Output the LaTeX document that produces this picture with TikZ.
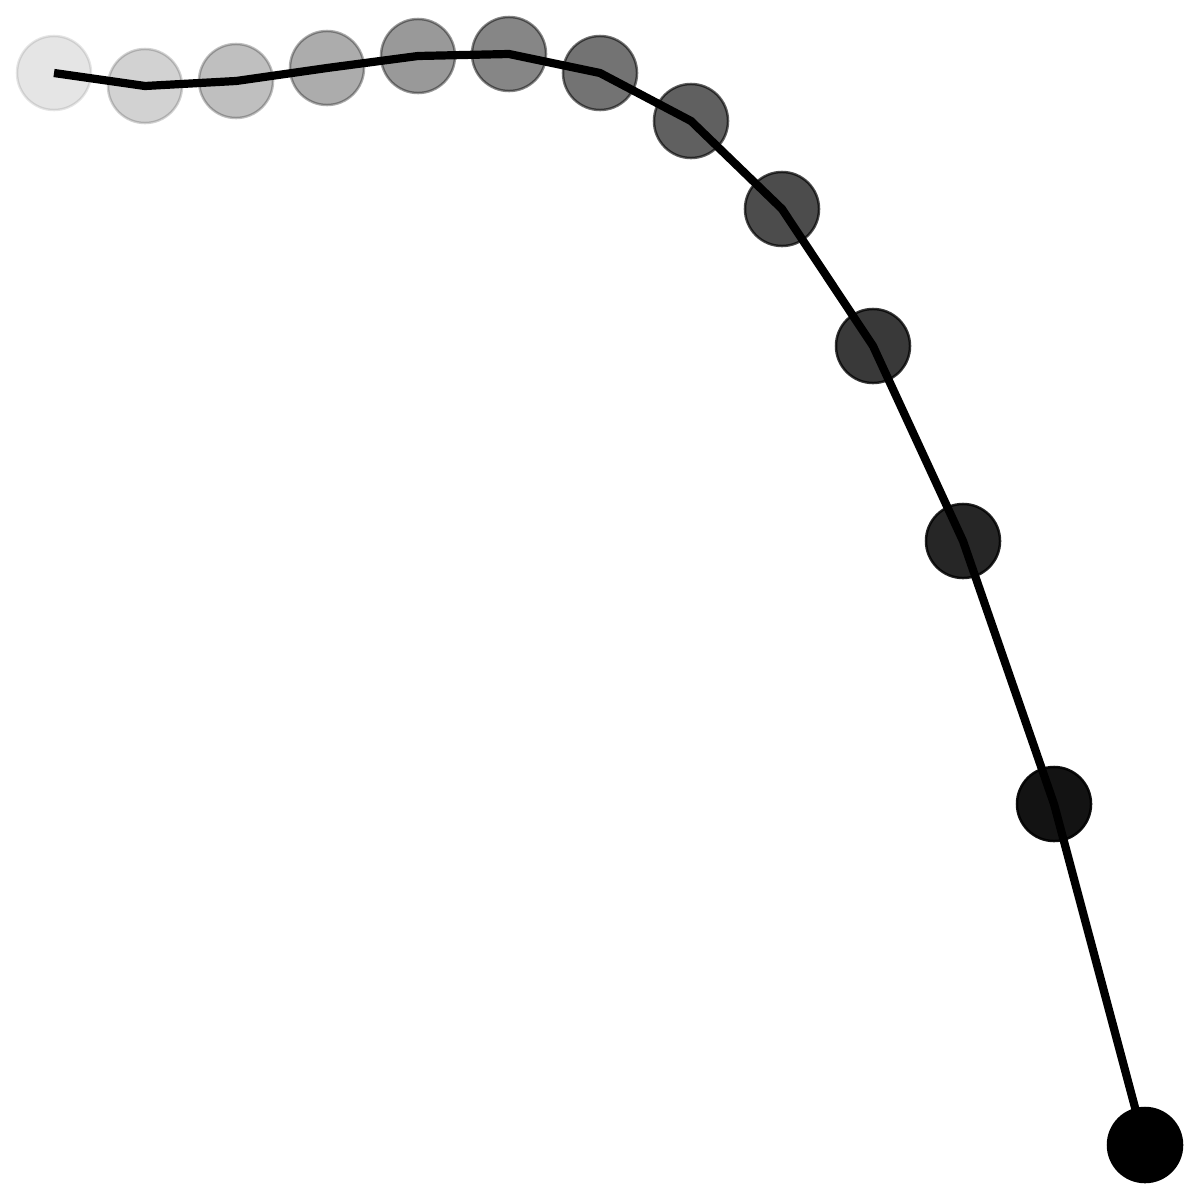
\documentclass[tikz,border=0pt]{standalone}
\begin{document}
\begin{tikzpicture}[x=0.01cm,y=-0.01cm,
  ball/.style={circle,minimum size=0.74cm,inner sep=0pt,draw=black,fill=black,line width=0.025cm,opacity=#1},
  trail/.style={line width=0.082cm,black,line join=miter}]
\useasboundingbox (0,0) rectangle (1200,1200);
\node[ball=0.100] (c1) at (54,73) {};
\node[ball=0.175] (c2) at (145,86) {};
\node[ball=0.250] (c3) at (236,81) {};
\node[ball=0.325] (c4) at (327,68) {};
\node[ball=0.400] (c5) at (418,56) {};
\node[ball=0.475] (c6) at (509,54) {};
\node[ball=0.550] (c7) at (600,73) {};
\node[ball=0.625] (c8) at (691,121) {};
\node[ball=0.700] (c9) at (782,209) {};
\node[ball=0.775] (c10) at (873,346) {};
\node[ball=0.850] (c11) at (963,541) {};
\node[ball=0.925] (c12) at (1054,804) {};
\node[ball=1.000] (c13) at (1145,1145) {};
\draw[trail] (c1.center) -- (c2.center) -- (c3.center) -- (c4.center) -- (c5.center) -- (c6.center) -- (c7.center) -- (c8.center) -- (c9.center) -- (c10.center) -- (c11.center) -- (c12.center) -- (c13.center);
\end{tikzpicture}
\end{document}
